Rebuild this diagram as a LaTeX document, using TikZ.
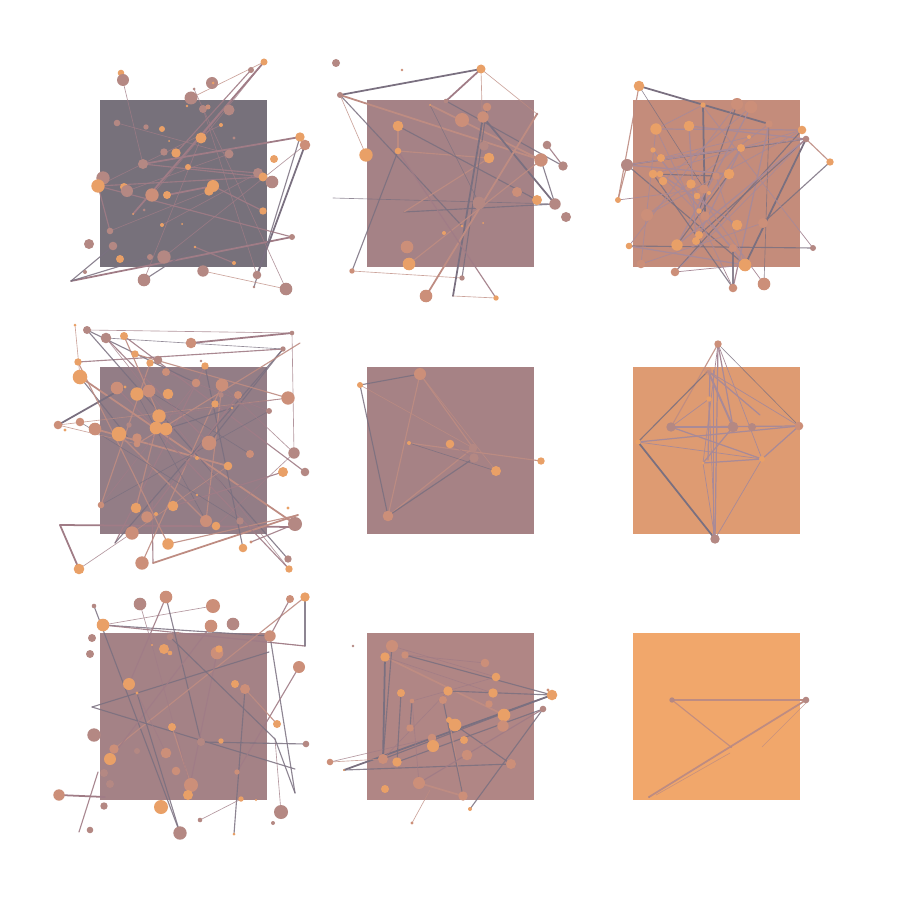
\documentclass[tikz,border=0pt]{standalone}
\usepackage{tikz}
\usepackage{xcolor}

\definecolor{panelone}{HTML}{77717B}
\definecolor{paneltwo}{HTML}{A58286}
\definecolor{panelthree}{HTML}{C48C7B}
\definecolor{panelfour}{HTML}{937D86}
\definecolor{panelfive}{HTML}{A68285}
\definecolor{panelsix}{HTML}{DE9B72}
\definecolor{panelseven}{HTML}{A48286}
\definecolor{paneleight}{HTML}{B08685}
\definecolor{panelnine}{HTML}{F1A76B}
\definecolor{dotorange}{HTML}{E9A067}
\definecolor{dotsalmon}{HTML}{CC8F79}
\definecolor{dotmauve}{HTML}{B48883}
\definecolor{linegray}{HTML}{7A7080}
\definecolor{linemauve}{HTML}{A07C86}
\definecolor{linerose}{HTML}{BE8C82}
\definecolor{linelilac}{HTML}{A88A98}

\begin{document}
\begin{tikzpicture}[
  x=0.1mm,
  y=-0.1mm,
  line cap=round,
  line join=round,
  gthin/.style={draw=linegray,line width=0.18pt,draw opacity=0.8},
  gmid/.style={draw=linegray,line width=0.32pt,draw opacity=0.85},
  gthick/.style={draw=linegray,line width=0.5pt},
  mthin/.style={draw=linemauve,line width=0.18pt,draw opacity=0.8},
  mmid/.style={draw=linemauve,line width=0.32pt,draw opacity=0.9},
  mthick/.style={draw=linemauve,line width=0.5pt},
  rthin/.style={draw=linerose,line width=0.18pt,draw opacity=0.8},
  rmid/.style={draw=linerose,line width=0.32pt,draw opacity=0.9},
  rthick/.style={draw=linerose,line width=0.5pt},
  lthin/.style={draw=linelilac,line width=0.2pt},
  lmid/.style={draw=linelilac,line width=0.35pt},
  lthick/.style={draw=linelilac,line width=0.55pt}
]

  % Canvas
  \fill[white] (0,0) rectangle (900,900);
  \useasboundingbox (0,0) rectangle (900,900);

  % Panel backgrounds, three rows of three
  \foreach \px/\py/\shade in {100/100/panelone,367/100/paneltwo,633/100/panelthree,
                              100/367/panelfour,367/367/panelfive,633/367/panelsix,
                              100/633/panelseven,367/633/paneleight,633/633/panelnine} {
    \fill[\shade] (\px,\py) rectangle ++(167,167);
  }

  % Panel 1: links
  \foreach \ax/\ay/\bx/\by/\s in {71/281/292/237/mthick,71/281/113/246/gmid,71/281/150/257/gmid,
      121/73/143/164/mthin,264/62/133/214/mthick,264/62/191/98/rthin,264/62/203/138/mthin,
      251/70/176/153/mmid,300/137/143/164/mthick,300/137/254/287/gmid,305/145/257/275/gthick,
      98/186/263/177/mmid,98/186/292/237/mmid,98/186/110/231/mmid,167/195/213/186/mthick,
      213/186/263/211/mmid,195/247/234/263/mmid,201/138/144/280/mthin,194/89/286/289/mthin,
      203/109/257/275/mthin,127/191/229/154/mthin,188/167/258/173/mmid,143/164/263/177/mmid,
      152/195/264/62/mthin,164/257/305/145/mthin,203/271/286/289/rthin,144/280/195/247/gmid,
      117/123/229/154/mthin,98/186/221/125/mthin,162/225/258/173/mthin,110/231/209/191/mthin} {
    \draw[\s] (\ax,\ay) -- (\bx,\by);
  }
  % Panel 1: dots
  \foreach \px/\py/\r/\c in {121/73/3.3/dotorange,123/80/6/dotmauve,212/83/6/dotmauve,
      213/83/1.5/dotorange,194/89/1.5/dotmauve,251/70/3/dotmauve,264/62/3.5/dotorange,
      191/98/6.5/dotmauve,203/109/4/dotmauve,208/107/2.5/dotsalmon,229/110/5.5/dotmauve,
      187/106/1.3/dotorange,117/123/3.3/dotmauve,146/127/2.7/dotmauve,162/129/3/dotorange,
      221/125/2/dotorange,234/138/1.7/dotmauve,201/138/5.5/dotorange,169/141/1/dotorange,
      164/152/3.7/dotmauve,176/153/4.7/dotorange,229/154/4.5/dotmauve,300/137/4.7/dotorange,
      305/145/5.3/dotsalmon,274/159/4/dotorange,143/164/5/dotmauve,188/167/3/dotorange,
      258/173/5/dotmauve,263/177/4.5/dotorange,272/182/6.3/dotmauve,103/178/6.7/dotmauve,
      98/186/6.7/dotorange,124/187/4/dotorange,127/191/6/dotmauve,152/195/6.7/dotsalmon,
      167/195/4/dotorange,213/186/6/dotorange,209/191/4.7/dotorange,263/211/3.7/dotorange,
      133/214/1/dotorange,144/210/1.5/dotmauve,162/225/2/dotorange,182/224/1/dotorange,
      110/231/3.3/dotmauve,292/237/3/dotmauve,89/244/5/dotmauve,113/246/4.3/dotmauve,
      195/247/1.3/dotorange,120/259/4/dotorange,150/257/3/dotmauve,164/257/6.7/dotmauve,
      234/263/2/dotorange,85/272/2/dotmauve,203/271/5.7/dotmauve,144/280/6.3/dotmauve,
      257/275/4.3/dotmauve,254/287/1.3/dotmauve,286/289/6.3/dotmauve} {
    \fill[\c] (\px,\py) circle ({\r*0.1mm});
  }

  % Panel 2: links
  \foreach \ax/\ay/\bx/\by/\s in {340/95/481/69/gthick,481/69/446/101/mthick,481/69/483/146/rthin,
      481/69/537/114/rthin,340/95/541/160/rthick,340/95/462/226/gmid,398/151/352/271/gmid,
      352/271/462/278/rthin,333/198/555/204/gthin,404/212/555/204/gmid,404/212/489/158/rmid,
      398/126/398/151/rmid,398/151/489/158/rmid,398/126/537/200/gmid,430/105/541/160/rthick,
      430/105/479/203/gthin,446/101/563/166/gmid,483/117/453/296/gthick,487/107/462/278/gmid,
      483/117/555/204/gthick,537/114/426/296/rthick,409/264/541/160/rmid,398/151/496/298/mmid,
      547/145/563/166/mmid,541/160/555/204/gmid,453/296/496/298/rthin,340/95/366/155/rthin} {
    \draw[\s] (\ax,\ay) -- (\bx,\by);
  }
  % Panel 2: dots
  \foreach \px/\py/\r/\c in {336/63/4/dotmauve,402/70/1.3/dotsalmon,481/69/4.5/dotorange,
      340/95/3/dotmauve,446/101/2.3/dotmauve,487/107/4.3/dotsalmon,462/120/7/dotsalmon,
      483/117/5.7/dotsalmon,537/114/1.3/dotmauve,398/126/5.3/dotorange,430/105/1/dotorange,
      366/155/6.7/dotorange,398/151/3.3/dotorange,484/146/4.7/dotmauve,489/158/5.3/dotorange,
      547/145/4.3/dotmauve,541/160/6.7/dotsalmon,563/166/4.7/dotmauve,517/192/5/dotsalmon,
      537/200/5/dotorange,555/204/5.7/dotmauve,566/217/5/dotmauve,479/203/6.3/dotmauve,
      483/223/1/dotorange,462/226/1.3/dotorange,444/233/2/dotorange,407/247/6.3/dotsalmon,
      409/264/6.3/dotorange,352/271/2.7/dotsalmon,462/278/2.7/dotmauve,426/296/6.3/dotsalmon,
      496/298/2.7/dotorange} {
    \fill[\c] (\px,\py) circle ({\r*0.1mm});
  }

  % Panel 3: links
  \foreach \ax/\ay/\bx/\by/\s in {639/86/769/124/gthick,639/86/618/200/rmid,639/86/705/190/gthin,
      618/200/627/165/rmid,627/165/806/139/gmid,627/165/745/265/gmid,656/129/802/130/lmid,
      689/126/806/139/lmid,703/105/705/216/gthick,737/104/699/211/gmid,751/107/677/245/lmid,
      769/124/733/288/lmid,806/139/830/162/rmid,830/162/763/223/gmid,806/139/745/265/gthick,
      802/130/675/272/gmid,629/246/813/248/gmid,629/246/745/265/lmid,675/272/745/265/lthin,
      653/174/733/288/gmid,660/174/737/225/lmid,653/150/745/265/lmid,741/148/627/165/lmid,
      716/176/653/174/gmid,749/137/661/158/lthin,699/235/806/139/gmid,696/241/741/148/lmid,
      647/215/802/130/lthin,677/245/729/174/gmid,733/288/733/248/gmid,641/264/656/129/lthin,
      703/105/656/129/lthin,764/284/769/124/gthin,675/272/806/139/lthin,
      656/129/733/288/lthin,689/126/696/241/lmid,702/105/813/248/lthin,661/158/806/139/lthin,
      627/165/729/174/lmid,653/174/802/130/lthin,691/184/764/284/lthin,647/215/769/124/lthin,
      618/200/704/189/lthin,677/245/806/139/lmid,716/176/745/265/lthin,629/246/737/104/lthin,
      663/181/751/107/lthin,641/264/763/223/lthin,699/211/741/148/lmid,660/174/733/248/lthin} {
    \draw[\s] (\ax,\ay) -- (\bx,\by);
  }
  % Panel 3: dots
  \foreach \px/\py/\r/\c in {639/86/5.3/dotorange,703/105/2.7/dotorange,737/104/6/dotsalmon,
      751/107/6.3/dotsalmon,769/124/3.7/dotsalmon,802/130/4.3/dotorange,806/139/3.3/dotmauve,
      830/162/3.7/dotorange,656/129/5.7/dotorange,689/126/5.3/dotorange,749/137/2/dotorange,
      741/148/4/dotorange,653/150/2.7/dotorange,661/158/4/dotorange,627/165/6/dotmauve,
      653/174/4.3/dotorange,660/174/3.3/dotorange,663/181/4.3/dotorange,716/176/3.7/dotsalmon,
      729/174/5.3/dotorange,691/184/4.7/dotorange,704/189/4.7/dotsalmon,697/196/3.3/dotorange,
      709/193/2/dotorange,618/200/3/dotorange,699/211/2.7/dotorange,705/216/4.7/dotsalmon,
      647/215/6/dotsalmon,737/225/5.3/dotorange,763/223/5/dotsalmon,699/235/4/dotorange,
      696/241/4/dotorange,677/245/5.7/dotorange,629/246/3.3/dotorange,733/248/4/dotsalmon,
      813/248/3/dotmauve,641/264/4.3/dotsalmon,675/272/4.3/dotsalmon,745/265/6.3/dotorange,
      733/288/4.3/dotsalmon,764/284/6.3/dotsalmon} {
    \fill[\c] (\px,\py) circle ({\r*0.1mm});
  }

  % Panel 4: links
  \foreach \ax/\ay/\bx/\by/\s in {87/330/292/333/mthin,191/343/292/333/mthick,78/362/283/349/mmid,
      106/338/283/349/gthin,80/377/295/524/rthick,58/425/125/387/gthick,80/377/130/440/gmid,
      124/336/305/472/mmid,87/330/288/559/gmid,106/338/289/569/mthin,60/525/295/527/mthick,
      60/525/79/569/mthick,79/569/132/533/mthin,152/498/153/563/mmid,153/563/298/515/rthick,
      142/563/222/385/rmid,115/543/205/366/mmid,283/349/115/543/gmid,292/333/294/453/mthin,
      206/521/222/385/rmid,209/443/283/349/gmid,295/524/251/542/mmid,168/544/298/515/rmid,
      136/508/156/428/rmid,166/429/232/408/gmid,95/429/228/466/rthick,119/434/206/521/rmid,
      117/388/289/569/mmid,75/325/80/377/rthin,87/330/196/383/gmid,135/354/288/398/rmid,
      150/363/101/505/rmid,205/366/243/548/gmid,58/425/288/398/rthin,269/411/101/505/gthin,
      300/343/137/444/rmid,
      106/338/209/443/mmid,124/336/159/416/rmid,166/372/269/411/mthin,149/391/250/454/gthin,
      196/383/101/505/mthin,238/395/147/517/mmid,222/385/294/453/mthin,78/362/168/544/rmid,
      137/394/206/521/gthin,283/472/173/506/mmid,294/453/216/526/mthin,228/466/132/533/rthin,
      159/416/288/398/mthin,80/422/240/521/gthin,58/425/137/444/rthin} {
    \draw[\s] (\ax,\ay) -- (\bx,\by);
  }
  % Panel 4: dots
  \foreach \px/\py/\r/\c in {75/325/1.5/dotorange,87/330/4/dotmauve,106/338/5.3/dotmauve,
      124/336/4/dotorange,191/343/5.3/dotsalmon,292/333/2.3/dotmauve,283/349/2.7/dotmauve,
      135/354/3.7/dotorange,158/360/4.3/dotmauve,150/363/3.7/dotorange,201/361/1.3/dotmauve,
      205/366/3.7/dotorange,78/362/3.7/dotorange,166/372/4/dotsalmon,80/377/7.3/dotorange,
      117/388/6.3/dotsalmon,137/394/6.7/dotorange,149/391/6.3/dotsalmon,125/387/1.7/dotorange,
      168/394/5.3/dotorange,196/383/4.3/dotsalmon,222/385/6.3/dotsalmon,221/395/2.7/dotmauve,
      238/395/4/dotsalmon,215/404/3.7/dotorange,232/408/1.3/dotorange,288/398/6.7/dotsalmon,
      269/411/3/dotmauve,159/416/6.7/dotorange,156/428/6.3/dotorange,166/429/6.3/dotorange,
      129/425/2.7/dotmauve,95/429/6.3/dotsalmon,119/434/7.3/dotorange,80/422/4.3/dotsalmon,
      58/425/4.3/dotsalmon,65/430/1.7/dotorange,137/438/4.7/dotsalmon,137/444/3.3/dotsalmon,
      209/443/7.3/dotsalmon,197/458/2/dotorange,228/466/4.3/dotorange,250/454/4/dotsalmon,
      294/453/5.7/dotmauve,305/472/4.3/dotmauve,283/472/5/dotorange,197/495/1.3/dotorange,
      101/505/3.3/dotsalmon,136/508/5.3/dotorange,173/506/5.3/dotorange,147/517/5.7/dotsalmon,
      156/514/2/dotorange,206/521/6/dotsalmon,216/526/4.3/dotorange,240/521/3.7/dotmauve,
      295/524/7/dotmauve,288/508/1.7/dotorange,132/533/6.7/dotsalmon,168/544/5.7/dotorange,
      243/548/4.3/dotorange,251/542/1.7/dotsalmon,79/569/5.3/dotorange,142/563/6.7/dotsalmon,
      288/559/3.7/dotmauve,289/569/3.7/dotorange} {
    \fill[\c] (\px,\py) circle ({\r*0.1mm});
  }

  % Panel 5: links and dots
  \foreach \ax/\ay/\bx/\by/\s in {360/385/420/374/gmid,360/385/388/516/gmid,360/385/473/448/rthin,
      420/374/388/516/rmid,420/374/473/448/rmid,420/374/496/471/rthin,388/516/473/448/rmid,
      388/516/474/458/gmid,409/443/541/461/rmid,409/443/496/471/gthin,450/444/474/458/mthin} {
    \draw[\s] (\ax,\ay) -- (\bx,\by);
  }
  \foreach \px/\py/\r/\c in {420/374/6/dotsalmon,360/385/3/dotorange,409/443/2/dotorange,
      450/444/4.3/dotorange,473/448/4.3/dotmauve,474/458/4.7/dotmauve,496/471/5/dotorange,
      541/461/3.7/dotorange,388/516/5.3/dotsalmon} {
    \fill[\c] (\px,\py) circle ({\r*0.1mm});
  }

  % Panel 6: links and dots
  \foreach \ax/\ay/\bx/\by/\s in {718/344/671/427/rmid,708/371/638/442/gmid,718/344/799/426/gthin,
      718/344/715/539/lmid,718/344/733/427/lmid,718/344/703/463/lthin,718/344/762/459/lthin,
      708/371/760/415/lmid,708/371/733/427/lthick,708/371/799/426/lthin,638/442/715/539/gthick,
      638/442/799/426/lmid,638/442/762/459/lthin,671/427/799/426/lmid,671/427/762/459/lmid,
      703/463/762/459/lmid,703/463/715/539/lthin,762/459/715/539/lthin,799/426/762/459/lmid,
      709/399/715/539/lthin,671/427/733/427/lthick,733/427/703/463/lmid,710/370/708/460/lmid,
      713/370/713/539/lthin,671/427/709/399/lthin} {
    \draw[\s] (\ax,\ay) -- (\bx,\by);
  }
  \fill[dotsalmon,opacity=0.5] (708,371) circle (0.4mm);
  \foreach \px/\py/\r/\c in {718/344/3.7/dotsalmon,709/399/2.7/dotorange,671/427/4.7/dotmauve,
      733/427/5.3/dotmauve,752/427/4/dotmauve,799/426/4.3/dotsalmon,638/442/2.7/dotorange,
      703/463/1.7/dotorange,762/459/3/dotorange,715/539/4.7/dotmauve} {
    \fill[\c] (\px,\py) circle ({\r*0.1mm});
  }

  % Panel 7: links
  \foreach \ax/\ay/\bx/\by/\s in {103/625/213/606/mthin,103/625/270/636/gmid,103/625/305/646/mmid,
      94/606/180/833/gmid,140/604/152/645/mthin,166/597/129/684/mmid,166/597/201/742/gmid,
      178/633/305/646/mthin,305/597/305/646/gmid,305/597/114/749/rmid,290/599/270/636/mmid,
      270/636/295/793/gmid,92/707/269/652/gmid,92/707/295/769/gmid,59/795/105/797/mthick,
      79/832/98/772/mmid,299/667/237/772/mmid,245/689/234/834/gmid,245/689/277/724/rmid,
      217/653/188/795/mmid,211/626/110/759/mmid,170/637/275/739/gmid,275/739/281/812/mthin,
      275/739/295/793/gmid,201/742/306/744/gmid,172/727/191/785/rmid,200/820/241/799/mthin,
      137/693/180/833/gmid,137/693/166/753/mthin,152/645/190/785/mthin} {
    \draw[\s] (\ax,\ay) -- (\bx,\by);
  }
  % Panel 7: dots
  \foreach \px/\py/\r/\c in {94/606/2.3/dotmauve,140/604/6.3/dotmauve,166/597/6.3/dotsalmon,
      213/606/7/dotsalmon,290/599/4/dotsalmon,305/597/4.7/dotorange,103/625/6.3/dotorange,
      211/626/6.3/dotsalmon,233/624/6.3/dotmauve,270/636/5.7/dotsalmon,92/638/4/dotmauve,
      90/654/4/dotmauve,170/637/3.3/dotmauve,178/633/1.5/dotmauve,164/649/5/dotorange,
      170/653/2.3/dotorange,217/653/6.3/dotsalmon,219/649/3.7/dotorange,152/645/1.2/dotorange,
      299/667/6/dotsalmon,129/684/6/dotorange,137/693/1.7/dotorange,235/684/4/dotorange,
      245/689/5/dotsalmon,172/727/4/dotorange,94/735/6.7/dotmauve,277/724/4/dotorange,
      201/742/4/dotmauve,221/741/2.7/dotorange,306/744/3.3/dotmauve,114/749/4.7/dotsalmon,
      110/759/6/dotorange,137/751/3/dotmauve,166/753/5.3/dotsalmon,104/773/4/dotmauve,
      176/771/4.3/dotsalmon,237/772/2.7/dotsalmon,110/784/4/dotmauve,191/785/7/dotsalmon,
      188/795/5/dotorange,241/799/2.7/dotorange,256/800/1.2/dotorange,59/795/5.7/dotsalmon,
      104/806/3.7/dotmauve,161/807/7/dotorange,281/812/7/dotmauve,200/820/2.3/dotmauve,
      273/823/2/dotmauve,90/830/3.3/dotmauve,180/833/6.7/dotmauve,234/834/1.5/dotorange} {
    \fill[\c] (\px,\py) circle ({\r*0.1mm});
  }

  % Panel 8: links
  \foreach \ax/\ay/\bx/\by/\s in {385/657/383/759/gthick,385/657/504/715/rthick,405/655/485/663/mthin,
      405/655/552/695/gmid,392/646/496/677/mthin,448/691/552/695/gmid,412/701/410/728/gmid,
      412/701/496/677/mthin,383/759/552/695/gmid,397/762/543/709/gmid,330/762/432/738/mthin,
      344/770/552/695/gthick,344/770/511/764/gmid,419/783/463/796/rthick,470/809/543/709/gmid,
      463/796/449/720/rmid,383/759/448/691/mthin,401/693/397/762/gmid,443/700/463/796/gmid,
      412/701/419/783/mthin,455/725/511/764/gmid,419/783/543/709/mmid,392/646/383/759/gmid,
      330/762/383/759/rthin,412/823/430/790/rthin,493/693/385/657/mthin} {
    \draw[\s] (\ax,\ay) -- (\bx,\by);
  }
  % Panel 8: dots
  \foreach \px/\py/\r/\c in {353/646/1.3/dotmauve,392/646/6/dotsalmon,385/657/4.7/dotorange,
      405/655/3.7/dotsalmon,485/663/4.3/dotsalmon,496/677/4.3/dotorange,401/693/4/dotorange,
      448/691/4.7/dotorange,493/693/4.7/dotorange,412/701/2.3/dotsalmon,443/700/4/dotsalmon,
      489/704/3.7/dotsalmon,552/695/5.3/dotorange,548/690/1.7/dotsalmon,543/709/3.3/dotmauve,
      504/715/6.3/dotorange,503/726/5.7/dotsalmon,449/720/3/dotorange,455/725/6.3/dotorange,
      410/728/3.7/dotsalmon,432/738/4.3/dotsalmon,433/746/6/dotorange,464/740/4/dotorange,
      467/755/5.3/dotsalmon,383/759/5/dotsalmon,397/762/4.7/dotorange,511/764/5/dotsalmon,
      330/762/3.3/dotsalmon,344/770/1/dotorange,419/783/6/dotsalmon,385/789/4/dotorange,
      463/796/4.7/dotsalmon,470/809/2/dotorange,412/823/1.7/dotsalmon} {
    \fill[\c] (\px,\py) circle ({\r*0.1mm});
  }

  % Panel 9: links and dots
  \foreach \ax/\ay/\bx/\by/\s in {672/700/806/700/rthick,672/700/731/747/rmid,806/700/649/797/rthick,
      762/747/806/703/rthin,730/753/656/795/rthin} {
    \draw[\s] (\ax,\ay) -- (\bx,\by);
  }
  \foreach \px/\py/\r/\c in {672/700/2.7/dotmauve,806/700/3.3/dotmauve,649/797/1/dotmauve,
      731/747/1/dotmauve} {
    \fill[\c] (\px,\py) circle ({\r*0.1mm});
  }

\end{tikzpicture}
\end{document}
